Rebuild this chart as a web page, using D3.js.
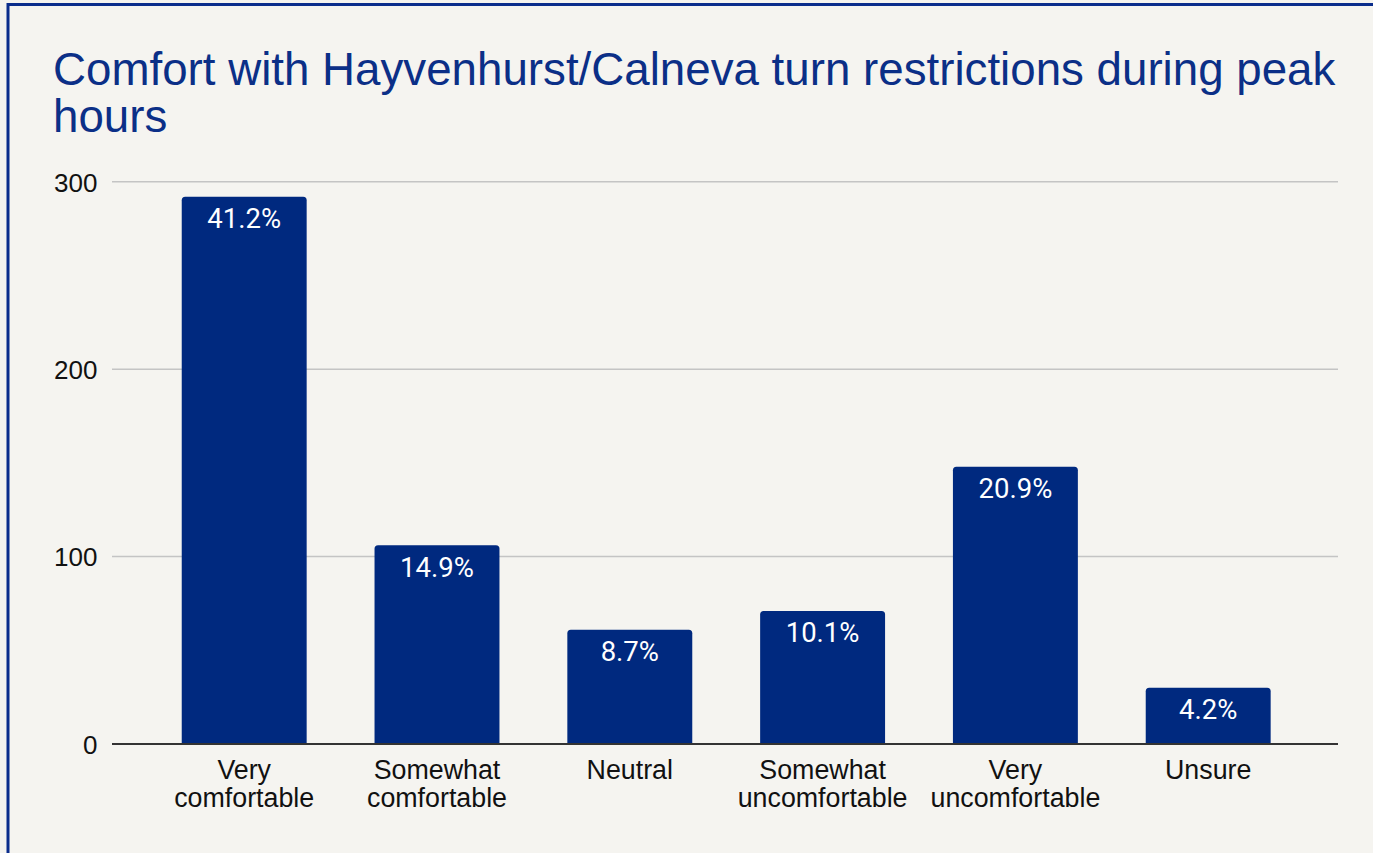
<!DOCTYPE html>
<html>
<head>
<meta charset="utf-8">
<script src="https://cdnjs.cloudflare.com/ajax/libs/d3/7.8.5/d3.min.js"></script>
<style>
  html, body { margin: 0; padding: 0; background: #f5f4f0; }
  svg { display: block; }
</style>
</head>
<body>
<svg id="chart" width="1373" height="853"></svg>
<script>
const titleLines = ["Comfort with Hayvenhurst/Calneva turn restrictions during peak", "hours"];
const categories = [["Very", "comfortable"], ["Somewhat", "comfortable"], ["Neutral"], ["Somewhat", "uncomfortable"], ["Very", "uncomfortable"], ["Unsure"]];
const counts = [292, 106, 61, 71, 148, 30];
const percentLabels = ["41.2%", "14.9%", "8.7%", "10.1%", "20.9%", "4.2%"];
const yTicks = [0, 100, 200, 300];

const svg = d3.select("#chart");
const W = 1373, H = 853;
const navy = "#00297f";

svg.append("rect").attr("width", W).attr("height", H).attr("fill", "#f5f4f0");
// frame (top & left visible)
svg.append("rect").attr("x", 8).attr("y", 4.5).attr("width", W + 20).attr("height", H + 20)
  .attr("fill", "none").attr("stroke", "#0a2d8c").attr("stroke-width", 3);

// title
const title = svg.append("text").attr("x", 53).attr("y", 85)
  .attr("font-family", "Liberation Sans, Arial, sans-serif").attr("font-size", 45.7)
  .attr("fill", "#0b2f87");
titleLines.forEach((t, i) => {
  title.append("tspan").attr("x", 53).attr("y", 85 + i * 46.5).text(t);
});

const plotLeft = 112, plotRight = 1338;
const y = d3.scaleLinear().domain([0, 300]).range([744, 181.8]);
const x = d3.scaleBand().domain(d3.range(categories.length))
  .range([147.8, 1304.6]).paddingInner(0.352).paddingOuter(0.176);

// gridlines
svg.append("g").selectAll("line").data(yTicks.filter(d => d > 0)).join("line")
  .attr("x1", plotLeft).attr("x2", plotRight)
  .attr("y1", d => y(d)).attr("y2", d => y(d))
  .attr("stroke", "#c4c4c4").attr("stroke-width", 1.5);

// y axis labels
const yAxis = d3.axisLeft(y).tickValues(yTicks).tickSize(0).tickPadding(0);
const ya = svg.append("g").attr("transform", `translate(97.5,0)`).call(yAxis);
ya.select(".domain").remove();
ya.selectAll("text").attr("font-family", "Liberation Sans, Arial, sans-serif")
  .attr("font-size", 26).attr("fill", "#111").attr("dy", "0.36em");

// bars
const r = 3.5;
svg.append("g").selectAll("path").data(counts).join("path")
  .attr("fill", navy)
  .attr("d", (d, i) => {
    const x0 = x(i), x1 = x(i) + x.bandwidth(), yt = y(d), yb = y(0);
    return `M${x0},${yb} L${x0},${yt + r} Q${x0},${yt} ${x0 + r},${yt} L${x1 - r},${yt} Q${x1},${yt} ${x1},${yt + r} L${x1},${yb} Z`;
  });

// bar labels
svg.append("g").selectAll("text").data(counts).join("text")
  .attr("x", (d, i) => x(i) + x.bandwidth() / 2)
  .attr("y", d => y(d) + 31.5)
  .attr("text-anchor", "middle")
  .attr("font-family", "Roboto, sans-serif").attr("font-size", 27.5)
  .attr("fill", "#ffffff")
  .text((d, i) => percentLabels[i]);

// baseline
svg.append("line").attr("x1", plotLeft).attr("x2", plotRight)
  .attr("y1", y(0)).attr("y2", y(0)).attr("stroke", "#333").attr("stroke-width", 2);

// category labels
const cl = svg.append("g").selectAll("text").data(categories).join("text")
  .attr("text-anchor", "middle")
  .attr("font-family", "Liberation Sans, Arial, sans-serif").attr("font-size", 26.8)
  .attr("fill", "#111");
cl.each(function(lines, i) {
  const t = d3.select(this);
  lines.forEach((ln, j) => {
    t.append("tspan").attr("x", x(i) + x.bandwidth() / 2).attr("y", 779 + j * 27.7).text(ln);
  });
});
</script>
</body>
</html>
